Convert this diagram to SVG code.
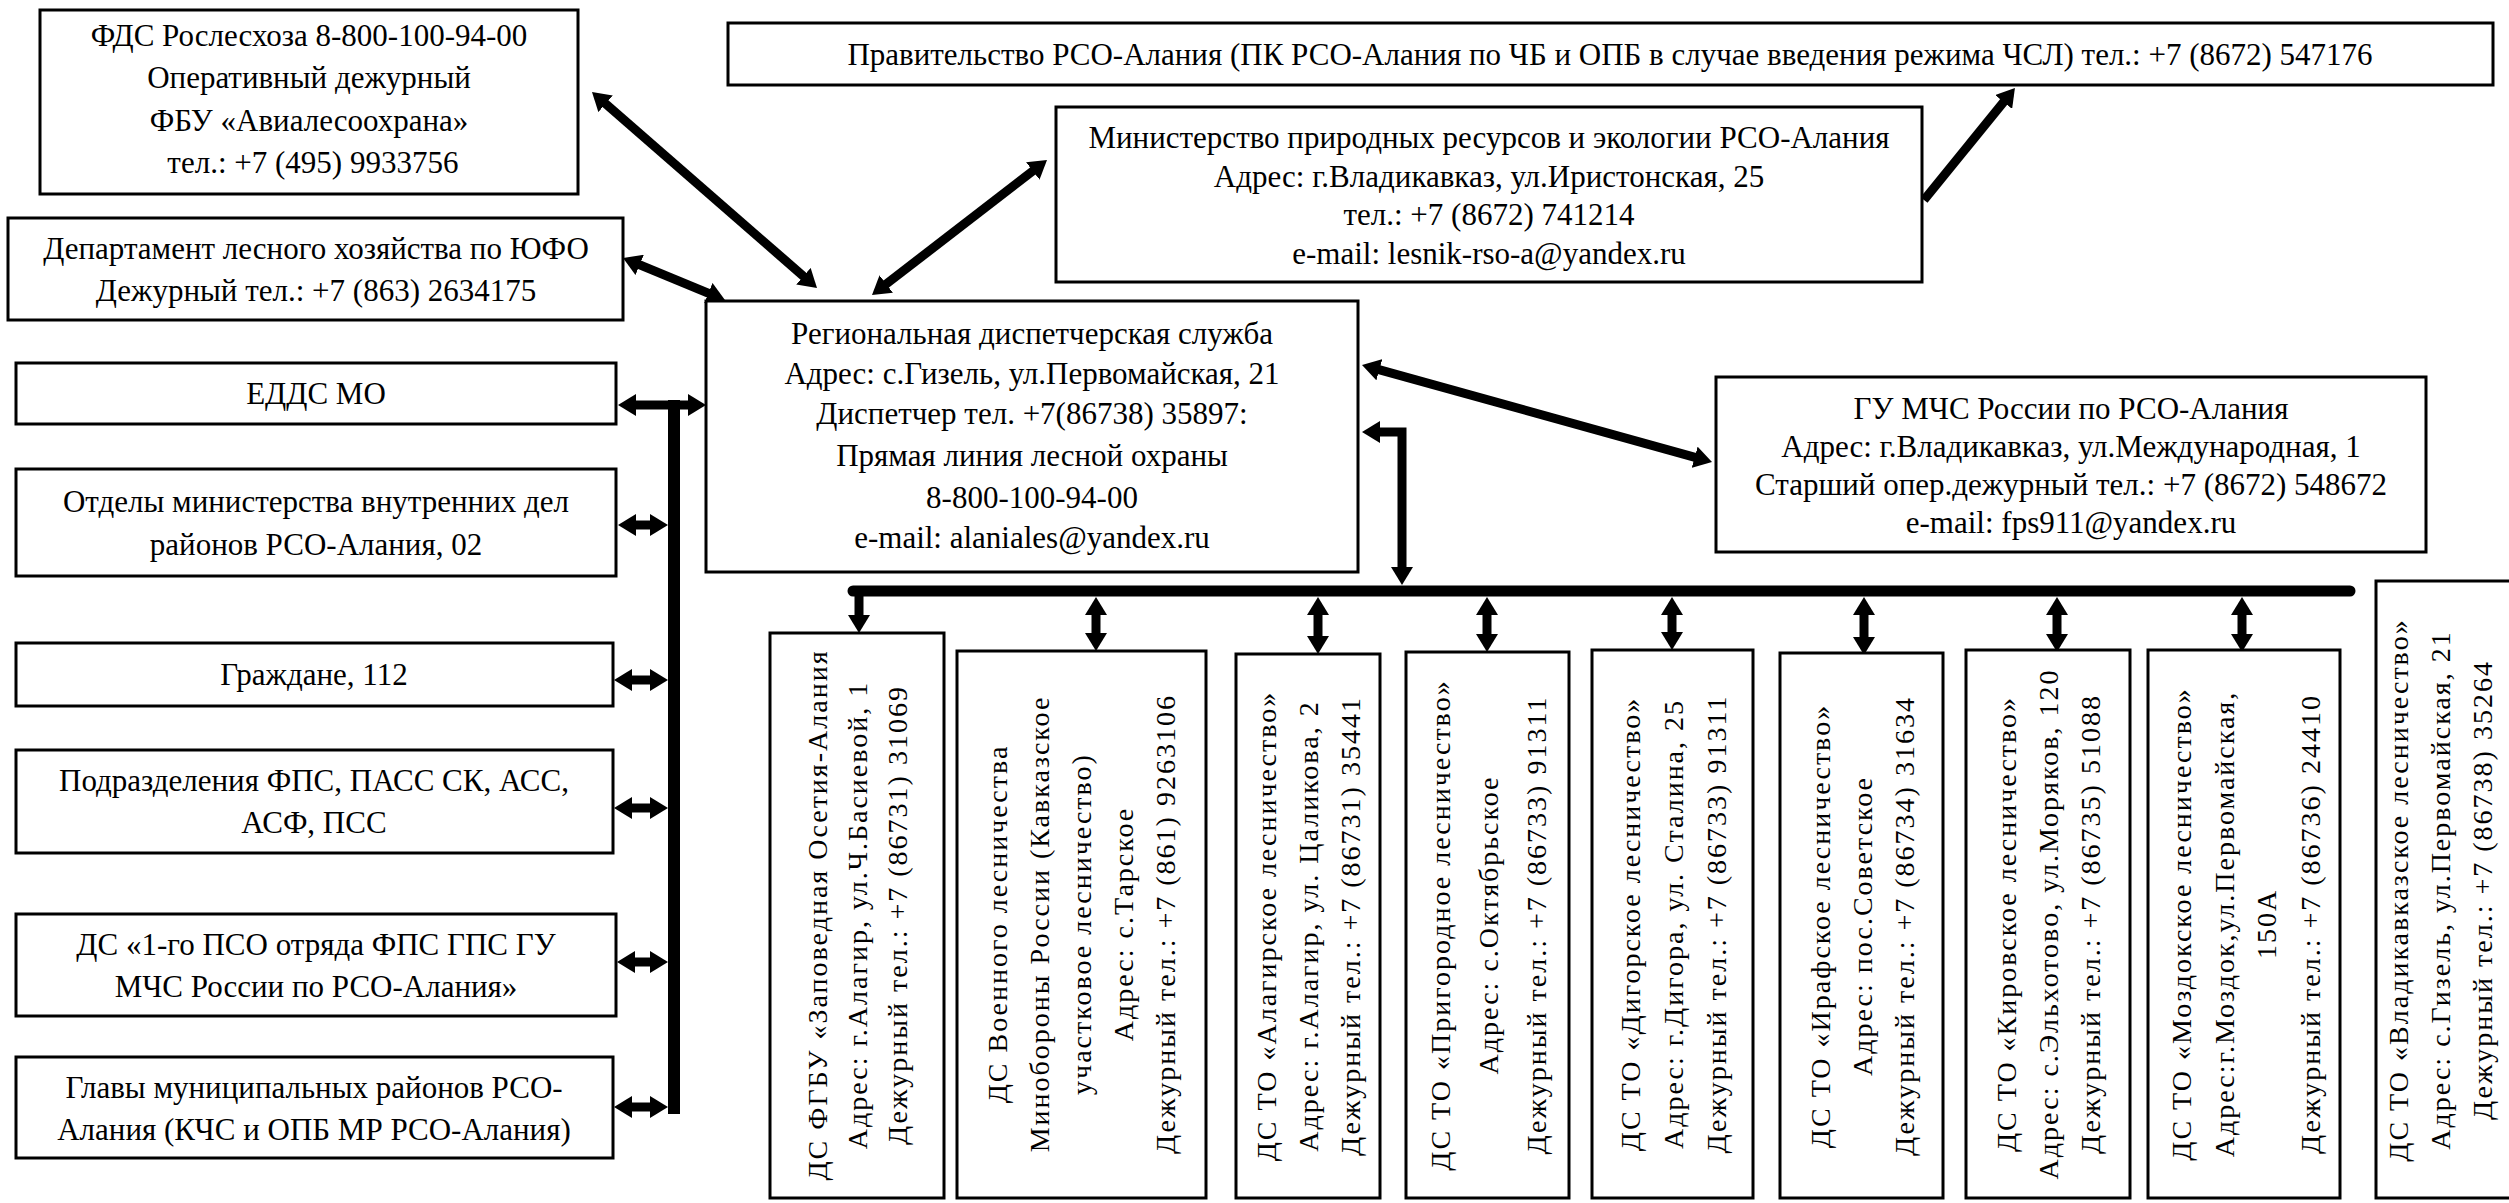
<svg xmlns="http://www.w3.org/2000/svg" width="2509" height="1203" viewBox="0 0 2509 1203">
<style>
.box{fill:#fff;stroke:#000;stroke-width:3}
.t{font-family:"Liberation Serif","Times New Roman",serif;font-size:31px;fill:#000;text-anchor:middle}
.v{font-family:"Liberation Serif","Times New Roman",serif;font-size:28px;letter-spacing:2px;fill:#000;text-anchor:middle}
.c{fill:none;stroke:#000;stroke-width:9;marker-start:url(#ah);marker-end:url(#ah)}
.c1{fill:none;stroke:#000;stroke-width:9;marker-end:url(#ah)}
.bus{fill:none;stroke:#000;stroke-width:12}
</style>
<defs>
<marker id="ah" viewBox="0 0 18 22" refX="7" refY="11" markerWidth="18" markerHeight="22" markerUnits="userSpaceOnUse" orient="auto-start-reverse"><path d="M0,0 L18,11 L0,22 z" fill="#000"/></marker>
</defs>
<rect width="2509" height="1203" fill="#fff"/>

<g id="connectors">
<line class="c" x1="600.3" y1="99.2" x2="808.7" y2="280.8"/>
<line class="c" x1="633.2" y1="262.2" x2="714.8" y2="295.8"/>
<line class="c" x1="880.7" y1="288.3" x2="1038.3" y2="166.7"/>
<line class="c1" x1="1924" y1="200" x2="2008" y2="96.6"/>
<line class="c" x1="1372.6" y1="367.9" x2="1701.4" y2="459.1"/>
<polyline class="c" points="1373,432 1402,432 1402,574"/>
<line class="bus" x1="674" y1="400" x2="674" y2="1114"/>
<line class="c" x1="629" y1="405" x2="695" y2="405"/>
<line class="c" x1="629" y1="525" x2="657" y2="525"/>
<line class="c" x1="625" y1="680" x2="657" y2="680"/>
<line class="c" x1="625" y1="808" x2="657" y2="808"/>
<line class="c" x1="628" y1="962" x2="657" y2="962"/>
<line class="c" x1="625" y1="1107" x2="657" y2="1107"/>
<line x1="853" y1="591" x2="2350" y2="591" stroke="#000" stroke-width="11" stroke-linecap="round"/>
<line class="c1" x1="859" y1="592" x2="859" y2="622"/>
<line class="c" x1="1096" y1="608" x2="1096" y2="640"/>
<line class="c" x1="1318" y1="608" x2="1318" y2="643"/>
<line class="c" x1="1487" y1="608" x2="1487" y2="641"/>
<line class="c" x1="1672" y1="608" x2="1672" y2="639"/>
<line class="c" x1="1864" y1="608" x2="1864" y2="644"/>
<line class="c" x1="2057" y1="608" x2="2057" y2="641"/>
<line class="c" x1="2242" y1="608" x2="2242" y2="641"/>
</g>

<g id="n-fds">
<rect class="box" x="40" y="10" width="538" height="184"/>
<text class="t"><tspan x="309" y="46">ФДС Рослесхоза  8-800-100-94-00</tspan><tspan x="309" y="88">Оперативный дежурный</tspan><tspan x="309" y="131">ФБУ «Авиалесоохрана»</tspan><tspan x="309" y="173"> тел.: +7 (495) 9933756</tspan></text>
</g>
<g id="n-dep">
<rect class="box" x="8" y="218" width="615" height="102"/>
<text class="t"><tspan x="316" y="259">Департамент лесного хозяйства по ЮФО</tspan><tspan x="316" y="301">Дежурный тел.: +7 (863) 2634175</tspan></text>
</g>
<g id="n-gov">
<rect class="box" x="728" y="23" width="1765" height="62"/>
<text class="t" x="1610" y="65">Правительство РСО-Алания  (ПК РСО-Алания по ЧБ и ОПБ в случае  введения режима ЧСЛ) тел.: +7 (8672) 547176</text>
</g>
<g id="n-min">
<rect class="box" x="1056" y="107" width="866" height="175"/>
<text class="t"><tspan x="1489" y="148">Министерство природных ресурсов  и экологии РСО-Алания</tspan><tspan x="1489" y="187">Адрес: г.Владикавказ, ул.Иристонская, 25</tspan><tspan x="1489" y="225">тел.: +7 (8672) 741214</tspan><tspan x="1489" y="264">e-mail:  lesnik-rso-a@yandex.ru</tspan></text>
</g>
<g id="n-rds">
<rect class="box" x="706" y="301" width="652" height="271"/>
<text class="t"><tspan x="1032" y="344">Региональная диспетчерская служба</tspan><tspan x="1032" y="384">Адрес: с.Гизель, ул.Первомайская, 21</tspan><tspan x="1032" y="424">Диспетчер тел. +7(86738) 35897:</tspan><tspan x="1032" y="466">Прямая линия лесной охраны</tspan><tspan x="1032" y="508">8-800-100-94-00</tspan><tspan x="1032" y="548">e-mail:  alaniales@yandex.ru</tspan></text>
</g>
<g id="n-mchs">
<rect class="box" x="1716" y="377" width="710" height="175"/>
<text class="t"><tspan x="2071" y="419">ГУ МЧС России по РСО-Алания</tspan><tspan x="2071" y="457">Адрес: г.Владикавказ, ул.Международная, 1</tspan><tspan x="2071" y="495">Старший опер.дежурный тел.: +7 (8672) 548672</tspan><tspan x="2071" y="533">e-mail:  fps911@yandex.ru</tspan></text>
</g>

<g id="n-edds">
<rect class="box" x="16" y="363" width="600" height="61"/>
<text class="t" x="316" y="404">ЕДДС МО</text>
</g>
<g id="n-mvd">
<rect class="box" x="16" y="469" width="600" height="107"/>
<text class="t"><tspan x="316" y="512">Отделы министерства внутренних дел</tspan><tspan x="316" y="555">районов РСО-Алания, 02</tspan></text>
</g>
<g id="n-citizens">
<rect class="box" x="16" y="643" width="597" height="63"/>
<text class="t" x="314" y="685">Граждане, 112</text>
</g>
<g id="n-fps">
<rect class="box" x="16" y="750" width="597" height="103"/>
<text class="t"><tspan x="314" y="791">Подразделения ФПС, ПАСС СК, АСС,</tspan><tspan x="314" y="833">АСФ, ПСС</tspan></text>
</g>
<g id="n-pso">
<rect class="box" x="16" y="914" width="600" height="102"/>
<text class="t"><tspan x="316" y="955">ДС «1-го ПСО отряда ФПС ГПС ГУ</tspan><tspan x="316" y="997">МЧС России по РСО-Алания»</tspan></text>
</g>
<g id="n-heads">
<rect class="box" x="16" y="1057" width="597" height="101"/>
<text class="t"><tspan x="314" y="1098">Главы муниципальных районов РСО-</tspan><tspan x="314" y="1140">Алания (КЧС и ОПБ МР РСО-Алания)</tspan></text>
</g>

<g id="n-zapov">
<rect class="box" x="770" y="633" width="174" height="565"/>
<text class="v" transform="translate(857,915) rotate(-90)"><tspan x="0" y="-30">ДС ФГБУ «Заповедная Осетия-Алания</tspan><tspan x="0" y="10">Адрес: г.Алагир, ул.Ч.Басиевой, 1</tspan><tspan x="0" y="50">Дежурный тел.: +7 (86731) 31069</tspan></text>
</g>
<g id="n-voen">
<rect class="box" x="957" y="651" width="249" height="547"/>
<text class="v" transform="translate(1081,924) rotate(-90)"><tspan x="0" y="-74">ДС Военного лесничества</tspan><tspan x="0" y="-32">Минобороны России (Кавказское</tspan><tspan x="0" y="10">участковое лесничество)</tspan><tspan x="0" y="52">Адрес: с.Тарское</tspan><tspan x="0" y="94">Дежурный тел.: +7 (861) 9263106</tspan></text>
</g>
<g id="n-alagir">
<rect class="box" x="1236" y="654" width="144" height="544"/>
<text class="v" transform="translate(1308,926) rotate(-90)"><tspan x="0" y="-32">ДС ТО «Алагирское лесничество»</tspan><tspan x="0" y="10">Адрес: г.Алагир, ул. Цаликова, 2</tspan><tspan x="0" y="52">Дежурный тел.: +7 (86731) 35441</tspan></text>
</g>
<g id="n-prigor">
<rect class="box" x="1406" y="652" width="163" height="546"/>
<text class="v" transform="translate(1488,925) rotate(-90)"><tspan x="0" y="-38">ДС ТО «Пригородное лесничество»</tspan><tspan x="0" y="10">Адрес: с.Октябрьское</tspan><tspan x="0" y="58">Дежурный тел.: +7 (86733) 91311</tspan></text>
</g>
<g id="n-digor">
<rect class="box" x="1592" y="650" width="161" height="548"/>
<text class="v" transform="translate(1673,924) rotate(-90)"><tspan x="0" y="-33">ДС ТО «Дигорское лесничество»</tspan><tspan x="0" y="10">Адрес: г.Дигора, ул. Сталина, 25</tspan><tspan x="0" y="53">Дежурный тел.: +7 (86733) 91311</tspan></text>
</g>
<g id="n-iraf">
<rect class="box" x="1780" y="653" width="163" height="545"/>
<text class="v" transform="translate(1862,926) rotate(-90)"><tspan x="0" y="-32">ДС ТО «Ирафское лесничество»</tspan><tspan x="0" y="10">Адрес: пос.Советское</tspan><tspan x="0" y="52">Дежурный тел.: +7 (86734) 31634</tspan></text>
</g>
<g id="n-kirov">
<rect class="box" x="1966" y="650" width="164" height="548"/>
<text class="v" transform="translate(2048,924) rotate(-90)"><tspan x="0" y="-32">ДС ТО «Кировское лесничество»</tspan><tspan x="0" y="10">Адрес: с.Эльхотово, ул.Моряков, 120</tspan><tspan x="0" y="52">Дежурный тел.: +7 (86735) 51088</tspan></text>
</g>
<g id="n-mozdok">
<rect class="box" x="2148" y="650" width="192" height="548"/>
<text class="v" transform="translate(2245,924) rotate(-90)"><tspan x="0" y="-54">ДС ТО «Моздокское лесничество»</tspan><tspan x="0" y="-11">Адрес:г.Моздок,ул.Первомайская,</tspan><tspan x="0" y="31">150А</tspan><tspan x="0" y="75">Дежурный тел.: +7 (86736) 24410</tspan></text>
</g>
<g id="n-vladik">
<rect class="box" x="2376" y="581" width="170" height="617"/>
<text class="v" transform="translate(2440,890) rotate(-90)"><tspan x="0" y="-32">ДС ТО «Владикавказское лесничество»</tspan><tspan x="0" y="10">Адрес: с.Гизель, ул.Первомайская, 21</tspan><tspan x="0" y="52">Дежурный тел.: +7 (86738) 35264</tspan></text>
</g>
</svg>
